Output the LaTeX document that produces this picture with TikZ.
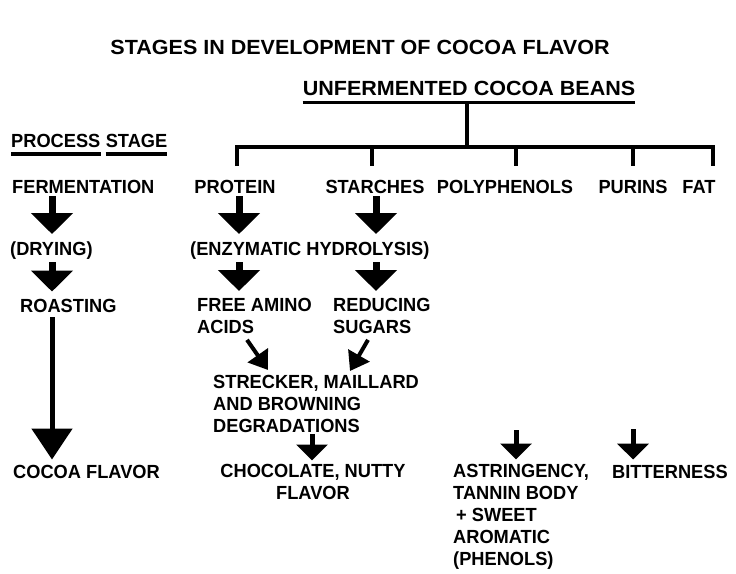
\documentclass[tikz,border=0pt]{standalone}
\usepackage{fontspec}
\setmainfont{Liberation Sans}[FakeStretch=0.96]
\newfontfamily\headfont[FakeStretch=1.05]{Liberation Sans}
\usetikzlibrary{arrows.meta,calc,positioning}

\begin{document}
\begin{tikzpicture}[x=1pt,y=-1pt,
 every node/.style={inner sep=0pt,font=\bfseries\fontsize{19}{22}\selectfont},
 lbl/.style={align=left,anchor=north west},
 head/.style={anchor=base,font=\headfont\bfseries\fontsize{20.5}{22}\selectfont},
 rule/.style={line width=3.5pt},
 fat/.style={-{Triangle[length=21pt,width=41pt]},line width=7pt,shorten <=3pt,shorten >=7pt},
 long/.style={-{Triangle[length=31pt,width=40pt]},line width=5pt,shorten <=5pt,shorten >=5pt},
 mid/.style={-{Triangle[length=16pt,width=31pt]},line width=5pt,shorten <=1pt,shorten >=4pt},
 slant/.style={-{Triangle[length=18pt,width=24pt]},line width=4pt}]
 \useasboundingbox (0,0) rectangle (736,573);
 % headings
 \node[head] (title) at (360,54.5) {STAGES IN DEVELOPMENT OF COCOA FLAVOR};
 \node[head] (beans) at (469,95.5) {UNFERMENTED COCOA BEANS};
 \node[anchor=base west] (proc) at (11,147) {PROCESS};
 \node[anchor=base west,right=5pt of proc] (stage) {STAGE};
 \draw[rule] ([yshift=-6.5pt]proc.south west) -- ([yshift=-6.5pt]proc.south east);
 \draw[rule] ([yshift=-6.5pt]stage.south west) -- ([yshift=-6.5pt]stage.south east);
 % process column
 \node[anchor=base west] (ferm) at (12,193) {FERMENTATION};
 \node[anchor=base west] (dry) at (10,255) {(DRYING)};
 \node[anchor=base west] (roast) at (20,312) {ROASTING};
 \node[anchor=base west] (cocoa) at (13,478) {COCOA FLAVOR};
 % bean components
 \node[anchor=base] (prot) at (235,193) {PROTEIN};
 \node[anchor=base] (starch) at (375,193) {STARCHES};
 \node[anchor=base] (poly) at (505,193) {POLYPHENOLS};
 \node[anchor=base] (pur) at (633,193) {PURINS};
 \node[anchor=base] (fat) at (699,193) {FAT};
 \node[anchor=base west] (enz) at (190,255) {(ENZYMATIC HYDROLYSIS)};
 \node[lbl] (amino) at (197,298) {FREE AMINO\\ACIDS};
 \node[lbl] (red) at (333,298) {REDUCING\\SUGARS};
 \node[lbl] (streck) at (213,375) {STRECKER, MAILLARD\\AND BROWNING\\DEGRADATIONS};
 \node[align=center,anchor=north] (choc) at (313,464.5) {CHOCOLATE, NUTTY\\FLAVOR};
 \node[lbl] (astr) at (453,464.5) {ASTRINGENCY,\\TANNIN BODY\\\hspace*{3pt}+ SWEET\\AROMATIC\\(PHENOLS)};
 \node[anchor=base west] (bitter) at (612,478) {BITTERNESS};
 % tree under the beans
 \coordinate (ul) at ([yshift=-7pt]beans.base);
 \coordinate (hub) at (467,147);
 \draw[rule] ([yshift=-7pt]beans.base west) -- ([yshift=-7pt]beans.base east);
 \draw[rule] (ul -| hub) -- (hub);
 \draw[rule] (237,166) -- (237,147) -- (713,147) -- (713,166);
 \foreach \x in {372,516,633}
  \draw[rule] (\x,147) -- (\x,166);
 % arrow columns
 \coordinate (lx) at (52,0);
 \coordinate (px) at (239,0);
 \coordinate (sx) at (376,0);
 \coordinate (cx) at (312,0);
 \coordinate (polyend) at (516,430);
 \coordinate (purend) at (633,429);
 \draw[fat] (ferm.south -| lx) -- (dry.north -| lx);
 \draw[fat] (dry.south -| lx) -- (roast.north -| lx);
 \draw[long] (roast.south -| lx) -- (cocoa.north -| lx);
 \draw[fat] (prot.south -| px) -- (enz.north -| px);
 \draw[fat] (starch.south -| sx) -- (enz.north -| sx);
 \draw[fat] (enz.south -| px) -- (amino.north -| px);
 \draw[fat] (enz.south -| sx) -- (red.north -| sx);
 \draw[slant] ($(amino.south west)+(50,6)$) -- ($(streck.north west)+(55,-5)$);
 \draw[slant] ($(red.south west)+(35,6)$) -- ($(streck.north west)+(137,-4)$);
 \draw[mid] (streck.south -| cx) -- (choc.north -| cx);
 \draw[mid,shorten <=0pt,shorten >=5pt] (polyend) -- (astr.north -| polyend);
 \draw[mid,shorten <=0pt,shorten >=5pt] (purend) -- (bitter.north -| purend);
\end{tikzpicture}
\end{document}
